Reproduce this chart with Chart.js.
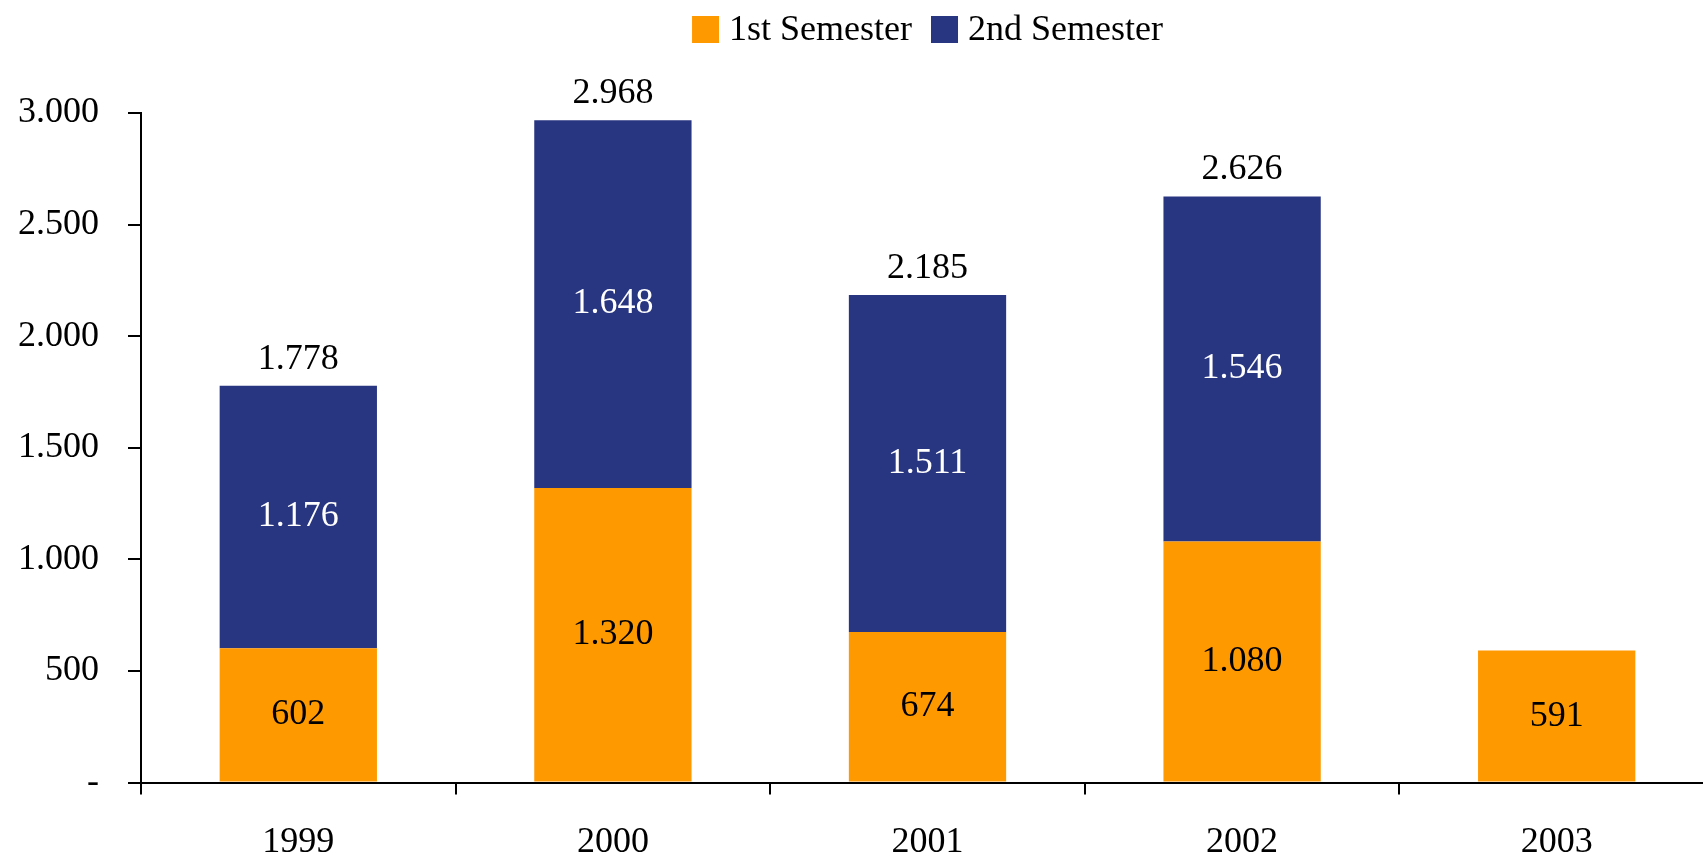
<!DOCTYPE html>
<html>
<head>
<meta charset="utf-8">
<script src="https://cdn.jsdelivr.net/npm/chart.js@4.4.0/dist/chart.umd.min.js"></script>
<style>
    html, body { margin: 0; padding: 0; background: #fff; overflow: hidden; }
    #wrap { position: relative; width: 1716px; height: 859px; }
</style>
</head>
<body>
<div id="wrap"><canvas id="semChart"></canvas></div>
<script>
    const years = ['1999', '2000', '2001', '2002', '2003'];
    const firstSemester = [602, 1320, 674, 1080, 591];
    const secondSemester = [1176, 1648, 1511, 1546, null];
    const yTicks = [0, 500, 1000, 1500, 2000, 2500, 3000];

    const FONT = '"Liberation Serif", "Times New Roman", serif';
    const ORANGE = '#ff9900';
    const NAVY = '#283581';

    // 1.778 style: dot as thousands separator
    function fmt(v) {
        return String(v).replace(/\B(?=(\d{3})+(?!\d))/g, '.');
    }

    const barLabels = {
        id: 'barLabels',
        afterDatasetsDraw(chart) {
            const ctx = chart.ctx;
            ctx.save();
            ctx.font = '36px ' + FONT;
            ctx.textAlign = 'center';
            ctx.textBaseline = 'middle';
            chart.data.datasets.forEach((ds, i) => {
                chart.getDatasetMeta(i).data.forEach((bar, j) => {
                    const v = ds.data[j];
                    if (v == null) return;
                    ctx.fillStyle = ds.labelColor;
                    ctx.fillText(fmt(v), bar.x, (bar.y + bar.base) / 2);
                });
            });
            // totals above the stack
            ctx.fillStyle = '#000';
            ctx.textBaseline = 'alphabetic';
            chart.getDatasetMeta(1).data.forEach((bar, j) => {
                if (secondSemester[j] == null) return;
                ctx.fillText(fmt(firstSemester[j] + secondSemester[j]), bar.x, bar.y - 17);
            });
            ctx.restore();
        }
    };

    const topLegend = {
        id: 'topLegend',
        afterDraw(chart) {
            const ctx = chart.ctx;
            const area = chart.chartArea;
            const box = 27, gap = 10, itemGap = 19;
            ctx.save();
            ctx.font = '36px ' + FONT;
            ctx.textBaseline = 'middle';
            ctx.textAlign = 'left';
            const items = chart.data.datasets.map(ds => ({
                text: ds.label, color: ds.backgroundColor, w: ctx.measureText(ds.label).width
            }));
            let total = items.reduce((s, it) => s + box + gap + it.w, 0) + itemGap * (items.length - 1);
            let x = (area.left + area.right) / 2 - total / 2;
            const yMid = 29.5;
            items.forEach(it => {
                ctx.fillStyle = it.color;
                ctx.fillRect(x, yMid - box / 2, box, box);
                ctx.fillStyle = '#000';
                ctx.fillText(it.text, x + box + gap, yMid + 1);
                x += box + gap + it.w + itemGap;
            });
            ctx.restore();
        }
    };

    new Chart(document.getElementById('semChart'), {
        type: 'bar',
        data: {
            labels: years,
            datasets: [
                { label: '1st Semester', data: firstSemester, backgroundColor: ORANGE, labelColor: '#000' },
                { label: '2nd Semester', data: secondSemester, backgroundColor: NAVY, labelColor: '#fff' }
            ]
        },
        options: {
            responsive: true,
            maintainAspectRatio: false,
            animation: false,
            datasets: { bar: { barPercentage: 1, categoryPercentage: 0.5, borderWidth: 0 } },
            layout: { padding: { top: 113, left: 17, right: 2, bottom: 0 } },
            plugins: { legend: { display: false }, tooltip: { enabled: false } },
            scales: {
                x: {
                    stacked: true,
                    grid: { display: true, drawOnChartArea: false, color: '#000', lineWidth: 2, tickLength: 12 },
                    border: { display: true, color: '#000', width: 2 },
                    ticks: { color: '#000', padding: 30, maxRotation: 0, font: { family: FONT, size: 36, lineHeight: 1 } },
                    afterFit: s => { s.height = 76.5; }
                },
                y: {
                    stacked: true,
                    min: 0,
                    max: 3000,
                    afterBuildTicks: s => { s.ticks = yTicks.map(v => ({ value: v })); },
                    grid: { display: true, drawOnChartArea: false, color: '#000', lineWidth: 2, tickLength: 13 },
                    border: { display: true, color: '#000', width: 2 },
                    ticks: {
                        color: '#000', padding: 29,
                        font: { family: FONT, size: 36, lineHeight: 1 },
                        callback: v => v === 0 ? '-' : fmt(v)
                    },
                    afterFit: s => { s.width = 124; }
                }
            }
        },
        plugins: [barLabels, topLegend]
    });
</script>
</body>
</html>
